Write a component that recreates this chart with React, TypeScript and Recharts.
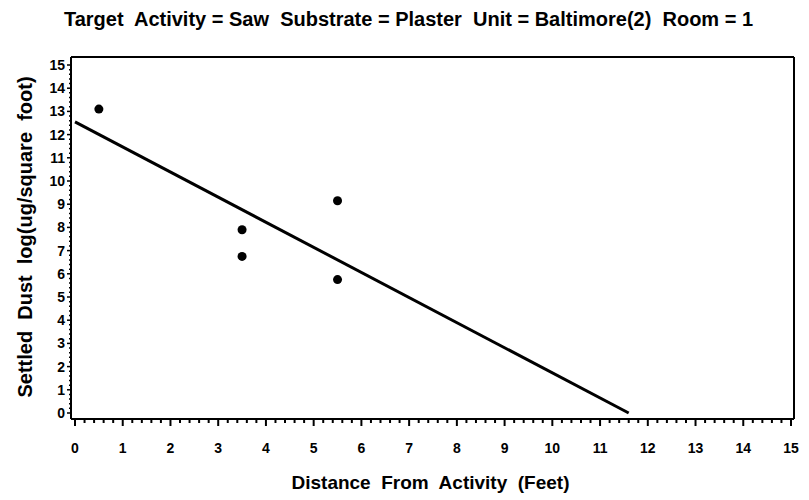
import React from "react";
import {
  ScatterChart,
  Scatter,
  XAxis,
  YAxis,
  Label,
} from "recharts";

const title = "Target  Activity = Saw  Substrate = Plaster  Unit = Baltimore(2)  Room = 1";
const xTitle = "Distance  From  Activity  (Feet)";
const yTitle = "Settled  Dust  log(ug/square  foot)";

// observed samples
const distance = [0.5, 3.5, 3.5, 5.5, 5.5];
const dust = [13.1, 7.9, 6.75, 9.15, 5.75];

// fitted regression line end points
const fitX = [0, 11.6];
const fitY = [12.55, 0];

const majorTicks = [0, 1, 2, 3, 4, 5, 6, 7, 8, 9, 10, 11, 12, 13, 14, 15];
const minorPerMajor = 5;

const allTicks: number[] = [];
majorTicks.forEach((t, i) => {
  if (i === majorTicks.length - 1) {
    allTicks.push(t);
    return;
  }
  for (let k = 0; k < minorPerMajor; k++) allTicks.push(t + k / minorPerMajor);
});

const points = distance.map((d, i) => ({ x: d, y: dust[i] }));
const fitLine = fitX.map((d, i) => ({ x: d, y: fitY[i] }));

const FONT = "'Liberation Sans', Arial, sans-serif";

const isMajor = (v: number) => Math.abs(v - Math.round(v)) < 1e-6;

const XTick = (props: any) => {
  const { x, y, payload } = props;
  const major = isMajor(payload.value);
  return (
    <g>
      <line x1={x} x2={x} y1={y} y2={y + (major ? 7 : 4)} stroke="#000" strokeWidth={2} />
      {major && (
        <text
          x={x}
          y={y + 29}
          textAnchor="middle"
          dominantBaseline="central"
          fontFamily={FONT}
          fontWeight="bold"
          fontSize={14}
          fill="#000"
        >
          {Math.round(payload.value)}
        </text>
      )}
    </g>
  );
};

const YTick = (props: any) => {
  const { x, y, payload } = props;
  const major = isMajor(payload.value);
  return (
    <g>
      <line x1={x} x2={x - (major ? 4 : 2)} y1={y} y2={y} stroke="#000" strokeWidth={1.5} />
      {major && (
        <text
          x={x - 6}
          y={y}
          textAnchor="end"
          dominantBaseline="central"
          fontFamily={FONT}
          fontWeight="bold"
          fontSize={14}
          fill="#000"
        >
          {Math.round(payload.value)}
        </text>
      )}
    </g>
  );
};

const App = () => {
  return (
    <div style={{ margin: "-8px 0 0 -8px", background: "#fff", width: 809, height: 500 }}>
      <ScatterChart width={809} height={500} margin={{ top: 0, right: 0, bottom: 0, left: 0 }}>
        <XAxis
          xAxisId="top"
          orientation="top"
          type="number"
          domain={[0, 1]}
          height={57}
          tick={false}
          tickLine={false}
          axisLine={{ stroke: "#000", strokeWidth: 2 }}
        >
          <Label
            content={({ viewBox }: any) => (
              <text
                x={viewBox.x + viewBox.width / 2 - 24}
                y={19}
                textAnchor="middle"
                dominantBaseline="central"
                fontFamily={FONT}
                fontWeight="bold"
                fontSize={20}
                fill="#000"
                style={{ whiteSpace: "pre" }}
              >
                {title}
              </text>
            )}
          />
        </XAxis>
        <YAxis
          yAxisId="right"
          orientation="right"
          type="number"
          domain={[0, 1]}
          width={15}
          tick={false}
          tickLine={false}
          axisLine={{ stroke: "#000", strokeWidth: 2 }}
        />
        <XAxis
          dataKey="x"
          type="number"
          domain={[0, 15]}
          ticks={allTicks}
          interval={0}
          padding={{ left: 4, right: 3 }}
          height={81}
          tickSize={0}
          tickMargin={0}
          tickLine={false}
          tick={<XTick />}
          axisLine={{ stroke: "#000", strokeWidth: 2 }}
        >
          <Label
            content={({ viewBox }: any) => (
              <text
                x={viewBox.x + viewBox.width / 2 - 2}
                y={482}
                textAnchor="middle"
                dominantBaseline="central"
                fontFamily={FONT}
                fontWeight="bold"
                fontSize={19}
                fill="#000"
                style={{ whiteSpace: "pre" }}
              >
                {xTitle}
              </text>
            )}
          />
        </XAxis>
        <YAxis
          dataKey="y"
          type="number"
          domain={[0, 15]}
          ticks={allTicks}
          interval={0}
          padding={{ top: 8, bottom: 6 }}
          width={71}
          tickSize={0}
          tickMargin={0}
          tickLine={false}
          tick={<YTick />}
          axisLine={{ stroke: "#000", strokeWidth: 2 }}
        >
          <Label
            content={() => {
              const cx = 25;
              const cy = 237;
              return (
                <text
                  x={cx}
                  y={cy}
                  transform={`rotate(-90, ${cx}, ${cy})`}
                  textAnchor="middle"
                  dominantBaseline="central"
                  fontFamily={FONT}
                  fontWeight="bold"
                  fontSize={20}
                  fill="#000"
                  style={{ whiteSpace: "pre" }}
                >
                  {yTitle}
                </text>
              );
            }}
          />
        </YAxis>
        <Scatter
          data={fitLine}
          isAnimationActive={false}
          line={{ stroke: "#000", strokeWidth: 3 }}
          shape={() => null}
        />
        <Scatter data={points} isAnimationActive={false} fill="#000" shape="circle" />
      </ScatterChart>
    </div>
  );
};

export default App;
